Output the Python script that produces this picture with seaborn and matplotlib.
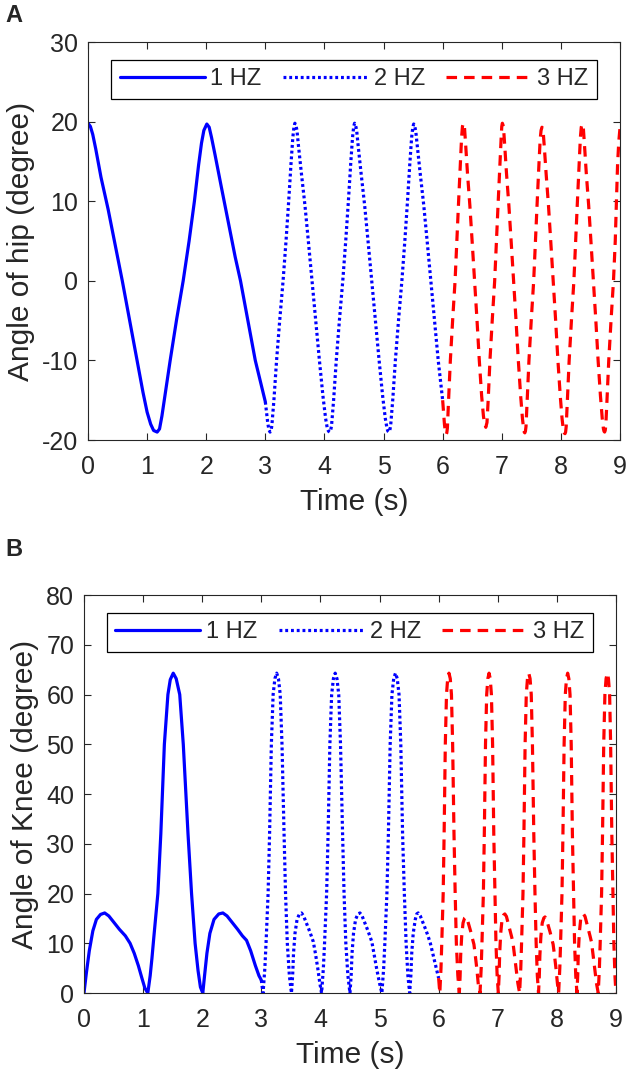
import matplotlib
matplotlib.use("Agg")
import matplotlib.pyplot as plt
import seaborn as sns
import pandas as pd

# ---------------- data ----------------
series_labels = ["1 HZ", "2 HZ", "3 HZ"]
x_ticks = [0, 1, 2, 3, 4, 5, 6, 7, 8, 9]
hip_y_ticks = [-20, -10, 0, 10, 20, 30]
knee_y_ticks = [0, 10, 20, 30, 40, 50, 60, 70, 80]

hip_1hz_t = [0.00, 0.04, 0.08, 0.13, 0.22, 0.34, 0.46, 0.58, 0.70, 0.83, 0.93, 1.00, 1.06,
             1.11, 1.17, 1.21, 1.25, 1.30, 1.39, 1.50, 1.61, 1.71, 1.80, 1.87, 1.92, 1.96,
             2.01, 2.05, 2.09, 2.15, 2.25, 2.37, 2.49, 2.58, 2.70, 2.83, 3.00]
hip_1hz_v = [19.8, 19.4, 18.4, 16.6, 13.0, 9.0, 4.5, 0.0, -4.8, -10.0, -14.0, -16.5, -18.0,
             -18.8, -19.0, -18.6, -17.0, -14.5, -10.0, -4.8, 0.0, 5.0, 10.0, 14.5, 17.3, 18.9,
             19.7, 19.3, 18.0, 15.8, 12.0, 7.5, 3.0, 0.0, -4.8, -10.0, -15.2]

hip_2hz_t = [3.00, 3.04, 3.06, 3.08, 3.095, 3.11, 3.145, 3.19, 3.245, 3.30, 3.35, 3.395, 3.435,
             3.465, 3.485, 3.50, 3.515, 3.535, 3.56, 3.61, 3.67, 3.73, 3.79, 3.85, 3.915,
             3.975, 4.02, 4.05, 4.07, 4.09, 4.105, 4.12, 4.155, 4.20, 4.255, 4.31, 4.36,
             4.405, 4.445, 4.475, 4.495, 4.51, 4.525, 4.545, 4.57, 4.62, 4.68, 4.74, 4.80,
             4.86, 4.925, 4.985, 5.03, 5.06, 5.075, 5.09, 5.105, 5.12, 5.155, 5.20, 5.255,
             5.31, 5.36, 5.405, 5.445, 5.475, 5.495, 5.51, 5.525, 5.545, 5.57, 5.62, 5.68,
             5.74, 5.80, 5.86, 5.925, 6.00]
hip_2hz_v = [-15.2, -17.8, -18.7, -19.0, -18.9, -18.2, -15.0, -10.0, -4.8, 0.0, 5.0, 10.0, 14.8,
             18.0, 19.4, 19.8, 19.6, 18.9, 17.0, 13.5, 9.5, 4.8, 0.0, -4.8, -10.0,
             -14.5, -17.3, -18.6, -18.9, -19.0, -18.8, -18.2, -15.0, -10.0, -4.8, 0.0, 5.0,
             10.0, 14.8, 18.0, 19.4, 19.8, 19.6, 18.9, 17.0, 13.5, 9.5, 4.8, 0.0,
             -4.8, -10.0, -14.5, -17.3, -18.6, -18.9, -19.0, -18.8, -18.2, -15.0, -10.0, -4.8,
             0.0, 5.0, 10.0, 14.8, 18.0, 19.3, 19.7, 19.5, 18.8, 17.0, 13.5, 9.5,
             4.8, 0.0, -4.8, -10.0, -15.0]

hip_3hz_t = [6.00, 6.03, 6.045, 6.06, 6.07, 6.08, 6.10, 6.13, 6.17, 6.21, 6.24, 6.27, 6.30,
             6.32, 6.335, 6.35, 6.36, 6.37, 6.39, 6.42, 6.46, 6.50, 6.54, 6.58, 6.62, 6.66,
             6.69, 6.71, 6.73, 6.75, 6.77, 6.80, 6.84, 6.88, 6.91, 6.94, 6.97, 6.99, 7.00,
             7.01, 7.02, 7.03, 7.05, 7.08, 7.12, 7.16, 7.20, 7.24, 7.28, 7.32, 7.35, 7.37,
             7.38, 7.39, 7.40, 7.41, 7.43, 7.46, 7.50, 7.54, 7.57, 7.60, 7.63, 7.65, 7.665,
             7.68, 7.69, 7.70, 7.72, 7.75, 7.79, 7.83, 7.87, 7.91, 7.95, 7.99, 8.02, 8.04,
             8.055, 8.07, 8.08, 8.09, 8.11, 8.14, 8.18, 8.22, 8.25, 8.28, 8.31, 8.33, 8.345,
             8.36, 8.37, 8.38, 8.40, 8.43, 8.47, 8.51, 8.55, 8.59, 8.63, 8.67, 8.70, 8.72,
             8.73, 8.74, 8.75, 8.76, 8.78, 8.81, 8.85, 8.89, 8.92, 8.94, 8.96, 8.98, 9.00]
hip_3hz_v = [-15.0, -18.0, -19.0, -19.3, -19.1, -18.5, -15.0, -10.0, -4.8, 0.0, 5.0, 10.0, 14.8,
             18.0, 19.4, 19.8, 19.6, 19.2, 17.0, 13.5, 9.5, 4.8, 0.0, -4.8, -10.0, -14.5,
             -17.0, -18.0, -18.4, -17.8, -15.0, -10.0, -4.8, 0.0, 5.0, 10.0, 14.8, 18.0, 19.4,
             19.8, 19.6, 19.2, 17.0, 13.5, 9.5, 4.8, 0.0, -4.8, -10.0, -14.5, -17.3, -18.6,
             -19.0, -19.1, -18.9, -18.3, -15.0, -10.0, -4.8, 0.0, 5.0, 10.0, 14.8, 17.8, 18.9,
             19.3, 19.2, 18.8, 16.8, 13.5, 9.5, 4.8, 0.0, -4.8, -10.0, -14.5, -17.3, -18.6,
             -19.1, -19.2, -19.0, -18.3, -15.0, -10.0, -4.8, 0.0, 5.0, 10.0, 14.8, 18.0, 19.3,
             19.7, 19.5, 19.2, 17.0, 13.5, 9.5, 4.8, 0.0, -4.8, -10.0, -14.5, -17.3, -18.6,
             -18.9, -19.0, -18.8, -18.2, -15.0, -10.0, -4.8, 0.0, 5.0, 10.0, 14.8, 17.5, 19.2]

knee_1hz_t = [0.00, 0.04, 0.09, 0.15, 0.21, 0.28, 0.35, 0.42, 0.50, 0.60, 0.70, 0.78, 0.85,
              0.92, 0.98, 1.03, 1.08, 1.12, 1.15, 1.18, 1.25, 1.30, 1.36, 1.42, 1.46, 1.51,
              1.56, 1.62, 1.68, 1.76, 1.82, 1.88, 1.93, 1.97, 2.01, 2.04, 2.08, 2.13, 2.20,
              2.28, 2.35, 2.42, 2.50, 2.60, 2.68, 2.75, 2.82, 2.90, 2.96, 3.00]
knee_1hz_v = [0.0, 4.0, 8.5, 12.5, 14.8, 15.8, 16.1, 15.5, 14.3, 12.8, 11.5, 10.0, 8.0,
              5.5, 3.0, 1.0, 0.0, 3.5, 7.0, 11.0, 20.0, 32.0, 50.0, 60.0, 63.0, 64.3,
              63.2, 60.0, 50.0, 32.0, 20.0, 10.0, 4.5, 1.2, 0.0, 3.5, 8.0, 12.0, 14.8,
              15.9, 16.1, 15.5, 14.3, 12.8, 11.5, 10.6, 8.5, 5.5, 3.5, 2.6]

knee_2hz_t = [3.00, 3.03, 3.06, 3.08, 3.115, 3.14, 3.17, 3.20, 3.23, 3.26, 3.29, 3.32, 3.35,
              3.385, 3.41, 3.44, 3.475, 3.51, 3.53, 3.545, 3.57, 3.605, 3.645, 3.68, 3.715,
              3.755, 3.805, 3.845, 3.88, 3.915, 3.955, 3.99, 4.02, 4.05, 4.07, 4.105, 4.13,
              4.16, 4.19, 4.22, 4.25, 4.28, 4.31, 4.34, 4.375, 4.40, 4.43, 4.465, 4.50,
              4.52, 4.535, 4.56, 4.595, 4.635, 4.67, 4.705, 4.745, 4.795, 4.835, 4.87, 4.905,
              4.95, 5.00, 5.04, 5.07, 5.09, 5.125, 5.15, 5.18, 5.21, 5.24, 5.27, 5.30, 5.33,
              5.36, 5.39, 5.42, 5.45, 5.48, 5.51, 5.53, 5.545, 5.57, 5.605, 5.63, 5.655,
              5.69, 5.73, 5.78, 5.82, 5.86, 5.90, 5.95, 6.00]
knee_2hz_v = [2.6, 0.0, 5.0, 10.0, 20.0, 32.0, 50.0, 60.0, 63.2, 64.3, 63.2, 60.0, 50.0,
              32.0, 20.0, 10.0, 3.5, 0.0, 3.5, 8.0, 12.0, 14.8, 15.9, 16.1, 15.5,
              14.3, 12.8, 11.5, 10.3, 8.0, 5.0, 2.0, 0.0, 5.0, 10.0, 20.0, 32.0,
              50.0, 60.0, 63.2, 64.3, 63.2, 60.0, 50.0, 32.0, 20.0, 10.0, 3.5, 0.0,
              3.5, 8.0, 12.0, 14.8, 15.9, 16.1, 15.5, 14.3, 12.8, 11.5, 10.3, 8.0,
              5.0, 2.0, 0.0, 5.0, 10.0, 20.0, 32.0, 50.0, 60.0, 63.2, 64.3, 63.2, 60.0,
              50.0, 32.0, 20.0, 10.0, 3.5, 0.0, 3.5, 8.0, 12.0, 14.8, 15.9, 16.1,
              15.5, 14.3, 12.8, 11.5, 10.0, 8.0, 5.5, 3.0]

knee_3hz_t = [6.00, 6.02, 6.04, 6.053, 6.077, 6.093, 6.113, 6.133, 6.153, 6.175, 6.197, 6.217,
              6.237, 6.26, 6.28, 6.30, 6.325, 6.35, 6.363, 6.373, 6.39, 6.413, 6.44, 6.46,
              6.487, 6.513, 6.547, 6.573, 6.597, 6.62, 6.647, 6.67, 6.70, 6.72, 6.733, 6.757,
              6.773, 6.793, 6.813, 6.833, 6.853, 6.873, 6.893, 6.913, 6.933, 6.953, 6.97,
              6.99, 7.01, 7.023, 7.033, 7.05, 7.073, 7.10, 7.12, 7.147, 7.173, 7.207, 7.233,
              7.257, 7.28, 7.31, 7.34, 7.37, 7.39, 7.403, 7.427, 7.443, 7.463, 7.483, 7.503,
              7.525, 7.547, 7.567, 7.587, 7.61, 7.63, 7.65, 7.67, 7.69, 7.703, 7.713, 7.73,
              7.753, 7.78, 7.80, 7.827, 7.853, 7.887, 7.913, 7.937, 7.96, 7.987, 8.01, 8.03,
              8.05, 8.063, 8.087, 8.103, 8.123, 8.143, 8.163, 8.183, 8.203, 8.223, 8.243,
              8.263, 8.283, 8.30, 8.32, 8.34, 8.353, 8.363, 8.38, 8.403, 8.43, 8.45, 8.477,
              8.503, 8.537, 8.563, 8.587, 8.61, 8.64, 8.67, 8.70, 8.72, 8.733, 8.757, 8.773,
              8.793, 8.813, 8.833, 8.853, 8.873, 8.893, 8.91, 8.93, 8.95, 8.965, 8.983, 9.00]
knee_3hz_v = [3.0, 0.0, 5.0, 10.0, 20.0, 32.0, 50.0, 60.0, 63.2, 64.3, 63.2, 60.0,
              50.0, 32.0, 20.0, 10.0, 3.5, 0.0, 3.3, 7.6, 11.4, 14.1, 15.1, 15.3,
              14.7, 13.6, 12.2, 10.9, 9.8, 7.6, 4.8, 1.9, 0.0, 5.0, 10.0, 20.0,
              32.0, 50.0, 60.0, 63.2, 64.3, 63.2, 60.0, 50.0, 32.0, 20.0, 10.0,
              3.5, 0.0, 3.5, 8.0, 12.0, 14.8, 15.7, 15.9, 15.4, 14.2, 12.7, 11.4,
              10.2, 8.0, 5.0, 2.0, 0.0, 5.0, 10.0, 20.0, 32.0, 50.0, 60.0, 63.2,
              64.3, 63.2, 60.0, 50.0, 32.0, 20.0, 10.0, 3.5, 0.0, 3.3, 7.6, 11.4,
              14.1, 15.1, 15.3, 14.7, 13.6, 12.2, 10.9, 9.8, 7.6, 4.8, 1.9, 0.0,
              5.0, 10.0, 20.0, 32.0, 50.0, 60.0, 63.2, 64.3, 63.2, 60.0, 50.0,
              32.0, 20.0, 10.0, 3.5, 0.0, 3.5, 8.0, 12.0, 14.8, 15.7, 15.9, 15.4,
              14.2, 12.7, 11.4, 10.2, 8.0, 5.0, 2.0, 0.0, 5.0, 10.0, 20.0, 32.0,
              50.0, 60.0, 63.2, 64.3, 63.2, 60.0, 50.0, 32.0, 20.0, 10.0, 3.5, 0.0]

# ---------------- style ----------------
sns.set_style("ticks")
plt.rcParams["font.family"] = ["Liberation Sans", "DejaVu Sans"]
plt.rcParams["axes.unicode_minus"] = False
AX_COLOR = "#262626"
TICK_FS = 18
LABEL_FS = 21.5
LEG_FS = 17

styles = [
    dict(color="#0000FF", linestyle="-"),
    dict(color="#0000FF", linestyle=(0, (0.9, 0.9))),
    dict(color="#FF0000", linestyle=(0, (3.3, 2.2))),
]
LW = 2.3

fig = plt.figure(figsize=(6.30, 10.78), dpi=100)
ax_a = fig.add_axes([0.1397, 0.5918, 0.8444, 0.3692])
ax_b = fig.add_axes([0.1333, 0.0788, 0.8444, 0.3692])


def draw(ax, series, ylim, yticks, ylabel):
    for (t, v), lab, st in zip(series, series_labels, styles):
        df = pd.DataFrame({"t": t, "v": v})
        sns.lineplot(data=df, x="t", y="v", ax=ax, estimator=None, sort=False,
                     label=lab, linewidth=LW, color=st["color"], linestyle=st["linestyle"])
    ax.set_xlim(0, 9)
    ax.set_ylim(*ylim)
    ax.set_xticks(x_ticks)
    ax.set_yticks(yticks)
    ax.set_xlabel("Time (s)", fontsize=LABEL_FS, color=AX_COLOR, labelpad=6)
    ax.set_ylabel(ylabel, fontsize=LABEL_FS, color=AX_COLOR, labelpad=5)
    ax.tick_params(direction="in", length=5, width=0.8, colors=AX_COLOR,
                   labelsize=TICK_FS, top=True, right=True)
    ax.tick_params(axis="x", pad=11)
    ax.tick_params(axis="y", pad=7)
    for sp in ax.spines.values():
        sp.set_visible(True)
        sp.set_color(AX_COLOR)
        sp.set_linewidth(0.8)
    handles, labels = ax.get_legend_handles_labels()
    leg = ax.legend(handles, labels, ncol=3, loc="upper center",
                    bbox_to_anchor=(0.5, 1 - 18 / 398), borderaxespad=0,
                    fontsize=LEG_FS, frameon=True, fancybox=False,
                    handlelength=3.6, handletextpad=0.25, columnspacing=0.9,
                    borderpad=0.35)
    leg.get_frame().set_edgecolor("#000000")
    leg.get_frame().set_linewidth(0.9)
    leg.get_frame().set_alpha(1)


draw(ax_a, [(hip_1hz_t, hip_1hz_v), (hip_2hz_t, hip_2hz_v), (hip_3hz_t, hip_3hz_v)],
     (-20, 30), hip_y_ticks, "Angle of hip (degree)")
draw(ax_b, [(knee_1hz_t, knee_1hz_v), (knee_2hz_t, knee_2hz_v), (knee_3hz_t, knee_3hz_v)],
     (0, 80), knee_y_ticks, "Angle of Knee (degree)")

fig.text(5 / 630, 1 - 15 / 1078, "A", fontsize=17, fontweight="bold", va="center", ha="left")
fig.text(5 / 630, 1 - 549 / 1078, "B", fontsize=17, fontweight="bold", va="center", ha="left")

fig.savefig("out.png", dpi=100)
